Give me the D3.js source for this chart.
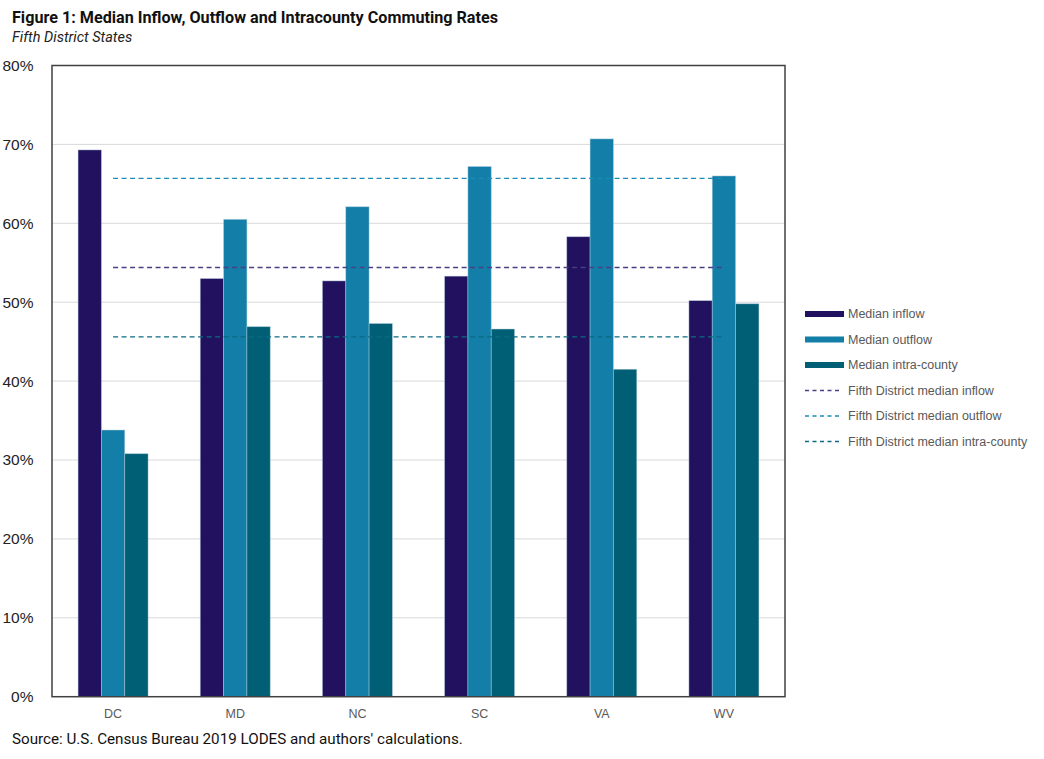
<!DOCTYPE html>
<html>
<head>
<meta charset="utf-8">
<script src="https://cdn.jsdelivr.net/npm/d3@7"></script>
<style>
  html, body { margin: 0; padding: 0; background: #ffffff; }
  svg { display: block; }
</style>
</head>
<body>
<svg id="chart" width="1044" height="759"></svg>
<script>
// ---- Data ----
const states = ["DC", "MD", "NC", "SC", "VA", "WV"];
const medianInflow = [69.3, 53.0, 52.7, 53.3, 58.3, 50.2];
const medianOutflow = [33.8, 60.5, 62.1, 67.2, 70.7, 66.0];
const medianIntraCounty = [30.8, 46.9, 47.3, 46.6, 41.5, 49.8];
const districtMedianInflow = 54.4;
const districtMedianOutflow = 65.7;
const districtMedianIntraCounty = 45.6;
const yTicks = [0, 10, 20, 30, 40, 50, 60, 70, 80];

const barSeries = [
  { name: "Median inflow", values: medianInflow, color: "#21115e" },
  { name: "Median outflow", values: medianOutflow, color: "#137fa8" },
  { name: "Median intra-county", values: medianIntraCounty, color: "#005f75" }
];
const lineSeries = [
  { name: "Fifth District median inflow", value: districtMedianInflow, color: "#4a3f85" },
  { name: "Fifth District median outflow", value: districtMedianOutflow, color: "#1a8cb8" },
  { name: "Fifth District median intra-county", value: districtMedianIntraCounty, color: "#0d6a82" }
];

// ---- Layout ----
const svg = d3.select("#chart");
const plot = { left: 52, right: 785, top: 65.5, bottom: 696.7 };

const x0 = d3.scaleBand()
  .domain(states)
  .range([plot.left, plot.right])
  .paddingInner(0.427)
  .paddingOuter(0.2135);
const x1 = d3.scaleBand()
  .domain(barSeries.map(d => d.name))
  .range([0, x0.bandwidth()]);
const y = d3.scaleLinear().domain([0, 80]).range([plot.bottom, plot.top]);

// Title
svg.append("text")
  .attr("x", 12).attr("y", 23)
  .attr("font-family", "Roboto, 'Liberation Sans', sans-serif")
  .attr("font-weight", "bold")
  .attr("font-size", 16.5)
  .attr("fill", "#111")
  .attr("textLength", 486).attr("lengthAdjust", "spacingAndGlyphs")
  .text("Figure 1: Median Inflow, Outflow and Intracounty Commuting Rates");
svg.append("text")
  .attr("x", 12).attr("y", 42)
  .attr("font-family", "Roboto, 'Liberation Sans', sans-serif")
  .attr("font-style", "italic")
  .attr("font-size", 14.5)
  .attr("fill", "#222")
  .text("Fifth District States");

// Gridlines
svg.append("g")
  .selectAll("line")
  .data(yTicks.filter(t => t > 0 && t < 80))
  .join("line")
  .attr("x1", plot.left).attr("x2", plot.right)
  .attr("y1", d => y(d)).attr("y2", d => y(d))
  .attr("stroke", "#d9d9d9").attr("stroke-width", 1);

// Y axis labels
const yAxis = d3.axisLeft(y).tickValues(yTicks).tickFormat(d => d + "%").tickSize(0).tickPadding(0);
const yg = svg.append("g").attr("transform", `translate(${plot.left - 18.5},0)`).call(yAxis);
yg.select(".domain").remove();
yg.selectAll("text")
  .attr("font-family", "'Liberation Sans', Arial, sans-serif")
  .attr("font-size", 15.5)
  .attr("fill", "#222");

// Bars
const groups = svg.append("g")
  .selectAll("g")
  .data(states)
  .join("g")
  .attr("transform", d => `translate(${x0(d)},0)`);
groups.selectAll("rect")
  .data((s, i) => barSeries.map(b => ({ name: b.name, value: b.values[i], color: b.color })))
  .join("rect")
  .attr("x", d => x1(d.name))
  .attr("width", x1.bandwidth())
  .attr("y", d => y(d.value))
  .attr("height", d => y(0) - y(d.value))
  .attr("fill", d => d.color)
  .attr("stroke", "#b8cfe0")
  .attr("stroke-opacity", 0.55)
  .attr("stroke-width", 0.8);

// Dashed median lines (category center to category center)
const xc = d => x0(d) + x0.bandwidth() / 2;
const lineGen = d3.line().x(d => xc(d.s)).y(d => y(d.v));
lineSeries.forEach(ls => {
  svg.append("path")
    .datum(states.map(s => ({ s: s, v: ls.value })))
    .attr("d", lineGen)
    .attr("fill", "none")
    .attr("stroke", ls.color)
    .attr("stroke-width", 1.3)
    .attr("stroke-dasharray", "5,3.5");
});

// Frame
svg.append("rect")
  .attr("x", plot.left).attr("y", plot.top)
  .attr("width", plot.right - plot.left).attr("height", plot.bottom - plot.top)
  .attr("fill", "none").attr("stroke", "#404040").attr("stroke-width", 1.5);

// X axis labels
const xAxis = d3.axisBottom(x0).tickSize(0).tickPadding(0);
const xg = svg.append("g").attr("transform", `translate(0,${plot.bottom + 12})`).call(xAxis);
xg.select(".domain").remove();
xg.selectAll("text")
  .attr("font-family", "'Liberation Sans', Arial, sans-serif")
  .attr("font-size", 12.5)
  .attr("fill", "#595959");

// Legend
const legendItems = barSeries.map(b => ({ name: b.name, color: b.color, type: "bar" }))
  .concat(lineSeries.map(l => ({ name: l.name, color: l.color, type: "line" })));
const legend = svg.append("g").attr("transform", "translate(805,314)");
const li = legend.selectAll("g").data(legendItems).join("g")
  .attr("transform", (d, i) => `translate(0,${i * 25.5})`);
li.filter(d => d.type === "bar").append("rect")
  .attr("x", 0).attr("y", -3).attr("width", 39).attr("height", 6)
  .attr("fill", d => d.color);
li.filter(d => d.type === "line").append("line")
  .attr("x1", 0).attr("x2", 37).attr("y1", 0).attr("y2", 0)
  .attr("stroke", d => d.color).attr("stroke-width", 1.3)
  .attr("stroke-dasharray", "4,3.5");
li.append("text")
  .attr("x", 43).attr("y", 0).attr("dy", "0.35em")
  .attr("font-family", "'Liberation Sans', Arial, sans-serif")
  .attr("font-size", 12.5)
  .attr("fill", "#595959")
  .text(d => d.name);

// Source
svg.append("text")
  .attr("x", 12).attr("y", 744)
  .attr("font-family", "Roboto, 'Liberation Sans', sans-serif")
  .attr("font-size", 15.2)
  .attr("fill", "#111")
  .text("Source: U.S. Census Bureau 2019 LODES and authors' calculations.");
</script>
</body>
</html>
